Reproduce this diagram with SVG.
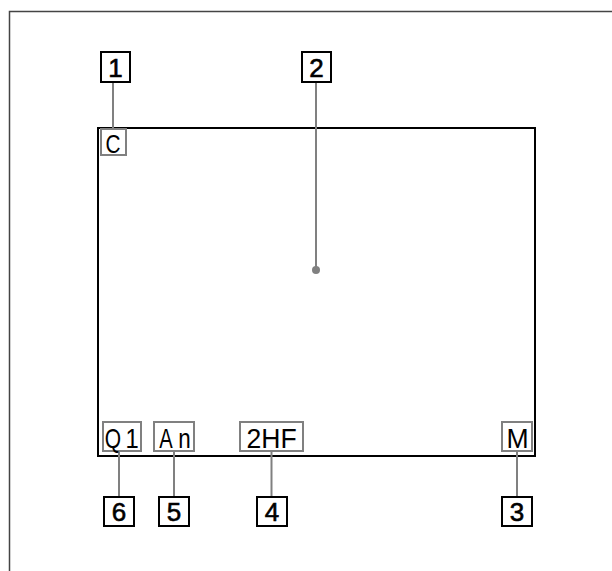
<svg xmlns="http://www.w3.org/2000/svg" width="612" height="571" viewBox="0 0 612 571">
<style>
.frame{fill:none;stroke:#444;stroke-width:1.5}
.screen{fill:none;stroke:#000;stroke-width:2}
.ind{fill:#fff;stroke:#808080;stroke-width:2}
.num{fill:#fff;stroke:#000;stroke-width:2}
.it{font-family:"Liberation Sans",Arial,sans-serif;font-size:28px;fill:#000;text-anchor:middle}
.nt{font-family:"Liberation Sans",Arial,sans-serif;font-size:26px;fill:#000;stroke:#000;stroke-width:0.6;text-anchor:middle}
.conn{stroke:#808080;stroke-width:2;fill:none}
</style>
<rect width="612" height="571" fill="#fff"/>
<path class="frame" d="M9.5 580 V11.5 H620"/>
<rect class="screen" x="98" y="128" width="437" height="328"/>
<g id="connectors">
<line class="conn" x1="113" y1="82" x2="113" y2="129"/>
<line class="conn" x1="316" y1="82" x2="316" y2="270"/>
<circle cx="316" cy="270" r="4" fill="#808080"/>
<line class="conn" x1="119" y1="451" x2="119" y2="497"/>
<line class="conn" x1="174" y1="451" x2="174" y2="497"/>
<line class="conn" x1="271.5" y1="451" x2="271.5" y2="497"/>
<line class="conn" x1="517" y1="451" x2="517" y2="497"/>
</g>
<g id="ind-C"><rect class="ind" x="101" y="129" width="25" height="26"/><text class="it" style="font-size:26px" transform="translate(113 153) scale(0.8 1)">C</text></g>
<g id="ind-Q1"><rect class="ind" x="103" y="422" width="38" height="29"/><text class="it" transform="translate(113 448) scale(0.75 1)">Q</text><text class="it" transform="translate(132 448) scale(0.85 1)">1</text></g>
<g id="ind-An"><rect class="ind" x="154" y="422" width="40" height="29"/><text class="it" transform="translate(166 448) scale(0.72 1)">A</text><text class="it" transform="translate(184.5 448) scale(0.8 1)">n</text></g>
<g id="ind-2HF"><rect class="ind" x="240" y="422" width="63" height="29"/><text class="it" transform="translate(271.5 448) scale(0.95 1)">2HF</text></g>
<g id="ind-M"><rect class="ind" x="502" y="422" width="30" height="29"/><text class="it" transform="translate(517.5 448) scale(0.95 1)">M</text></g>
<g id="n1"><rect class="num" x="101" y="52" width="29" height="30"/><text class="nt" x="115.5" y="76.5">1</text></g>
<g id="n2"><rect class="num" x="302" y="52" width="29" height="30"/><text class="nt" x="316.5" y="76.5">2</text></g>
<g id="n6"><rect class="num" x="104" y="497" width="30" height="29"/><text class="nt" x="119" y="521">6</text></g>
<g id="n5"><rect class="num" x="159" y="497" width="30" height="29"/><text class="nt" x="174" y="521">5</text></g>
<g id="n4"><rect class="num" x="257" y="497" width="30" height="29"/><text class="nt" x="272" y="521">4</text></g>
<g id="n3"><rect class="num" x="502" y="497" width="30" height="29"/><text class="nt" x="517" y="521">3</text></g>
</svg>
